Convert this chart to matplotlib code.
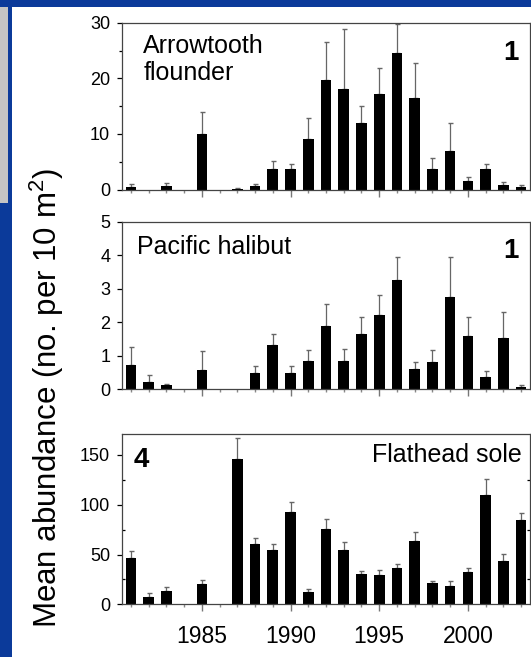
import numpy as np
import matplotlib
matplotlib.use("Agg")
import matplotlib.pyplot as plt
from matplotlib.patches import Rectangle
from matplotlib.ticker import MultipleLocator, FixedLocator

plt.rcParams['font.family'] = ['Liberation Sans', 'DejaVu Sans']
plt.rcParams['mathtext.fontset'] = 'custom'
plt.rcParams['mathtext.rm'] = 'Liberation Sans'

# -----------------------------
# Data (mean abundance and upper SE)
# -----------------------------
arrow_years = [1981, 1983, 1985, 1987, 1988, 1989, 1990, 1991, 1992, 1993, 1994,
               1995, 1996, 1997, 1998, 1999, 2000, 2001, 2002, 2003]
arrow_mean = [0.4, 0.6, 10.0, 0.1, 0.6, 3.6, 3.6, 9.1, 19.7, 18.1, 11.9,
              17.1, 24.6, 16.4, 3.6, 6.9, 1.6, 3.6, 0.8, 0.4]
arrow_se = [0.6, 0.6, 4.0, 0.2, 0.3, 1.5, 1.0, 3.7, 6.8, 10.7, 3.2,
            4.8, 5.2, 6.4, 2.0, 5.0, 0.7, 1.0, 0.5, 0.4]

halibut_years = [1981, 1982, 1983, 1985, 1988, 1989, 1990, 1991, 1992, 1993, 1994,
                 1995, 1996, 1997, 1998, 1999, 2000, 2001, 2002, 2003]
halibut_mean = [0.72, 0.22, 0.13, 0.56, 0.48, 1.32, 0.48, 0.84, 1.87, 0.84, 1.64,
                2.20, 3.26, 0.61, 0.80, 2.74, 1.59, 0.35, 1.52, 0.06]
halibut_se = [0.55, 0.20, 0.02, 0.57, 0.20, 0.32, 0.22, 0.32, 0.66, 0.35, 0.51,
              0.62, 0.68, 0.21, 0.36, 1.20, 0.56, 0.19, 0.78, 0.06]

sole_years = [1981, 1982, 1983, 1985, 1987, 1988, 1989, 1990, 1991, 1992, 1993,
              1994, 1995, 1996, 1997, 1998, 1999, 2000, 2001, 2002, 2003]
sole_mean = [46.9, 7.7, 13.7, 20.0, 145.6, 60.3, 54.6, 93.0, 12.0, 75.3, 54.2,
             30.5, 29.8, 36.2, 63.9, 21.1, 18.4, 32.8, 109.8, 43.9, 84.7]
sole_se = [6.7, 4.0, 3.3, 4.0, 21.4, 6.7, 5.7, 9.4, 3.4, 10.4, 8.1,
           3.0, 5.0, 4.3, 8.4, 2.7, 4.7, 4.0, 15.7, 6.3, 6.7]

all_years = list(range(1981, 2004))
label_years = [1985, 1990, 1995, 2000]

# -----------------------------
# Figure + slide frame
# -----------------------------
W, H = 531, 657
fig = plt.figure(figsize=(W / 100, H / 100), dpi=100)
fig.patch.set_facecolor('white')


def px_rect(x0, y0, x1, y1, color):
    fig.add_artist(Rectangle((x0 / W, 1 - y1 / H), (x1 - x0) / W, (y1 - y0) / H,
                             transform=fig.transFigure, color=color, lw=0, zorder=0))


blue = '#0b3a9a'
px_rect(0, 0, W, 7, blue)
px_rect(0, 7, 8, 203, '#c4c4c4')
px_rect(8, 0, 12, H, blue)
px_rect(0, 203, 12, H, blue)


def make_panel(top_px, bot_px, years, mean, se, ymax):
    ax = fig.add_axes([122 / W, 1 - bot_px / H, 408 / W, (bot_px - top_px) / H])
    ax.bar(years, mean, width=0.6, color='black', zorder=2)
    ax.errorbar(years, mean, yerr=[np.zeros(len(se)), se], fmt='none',
                ecolor='#666666', elinewidth=0.9, capsize=1.8, capthick=1, zorder=1)
    ax.set_xlim(1980.5, 2003.5)
    ax.set_ylim(0, ymax)
    for s in ax.spines.values():
        s.set_color('#444444')
        s.set_linewidth(0.9)
    ax.xaxis.set_major_locator(FixedLocator(label_years))
    ax.xaxis.set_minor_locator(FixedLocator(all_years))
    ax.tick_params(axis='x', which='major', direction='out', length=5, width=1,
                   color='#777777', labelsize=16.5, pad=10)
    ax.tick_params(axis='x', which='minor', direction='out', length=2.5, width=1,
                   color='#888888')
    ax.tick_params(axis='y', which='major', direction='out', length=3.5, width=0.9,
                   labelsize=13, pad=5)
    ax.tick_params(axis='y', which='minor', direction='out', length=2.5, width=0.9)
    return ax


# -----------------------------
# Panels
# -----------------------------
ax1 = make_panel(22.7, 189.5, arrow_years, arrow_mean, arrow_se, 30)
ax1.yaxis.set_major_locator(MultipleLocator(10))
ax1.yaxis.set_minor_locator(MultipleLocator(5))
ax1.set_xticklabels([])
ax1.text(0.052, 0.935, 'Arrowtooth\nflounder', transform=ax1.transAxes,
         fontsize=18, va='top', ha='left', linespacing=1.2)
ax1.text(0.971, 0.895, '1', transform=ax1.transAxes, fontsize=20,
         fontweight='bold', va='top', ha='right')

ax2 = make_panel(221.7, 389, halibut_years, halibut_mean, halibut_se, 5)
ax2.yaxis.set_major_locator(MultipleLocator(1))
ax2.set_xticklabels([])
ax2.text(0.037, 0.918, 'Pacific halibut', transform=ax2.transAxes,
         fontsize=18, va='top', ha='left')
ax2.text(0.971, 0.905, '1', transform=ax2.transAxes, fontsize=20,
         fontweight='bold', va='top', ha='right')

ax3 = make_panel(434, 604.3, sole_years, sole_mean, sole_se, 171)
ax3.yaxis.set_major_locator(MultipleLocator(50))
ax3.yaxis.set_minor_locator(MultipleLocator(25))
ax3.tick_params(axis='y', which='minor', right=True, direction='in')
ax3.text(0.029, 0.925, '4', transform=ax3.transAxes, fontsize=20,
         fontweight='bold', va='top', ha='left')
ax3.text(0.98, 0.945, 'Flathead sole', transform=ax3.transAxes,
         fontsize=18, va='top', ha='right')

# shared y label
fig.text(47 / W, 1 - 398 / H, 'Mean abundance (no. per 10 m$^2$)',
         rotation=90, va='center', ha='center', fontsize=22.5)

plt.savefig('out.png', dpi=100)
